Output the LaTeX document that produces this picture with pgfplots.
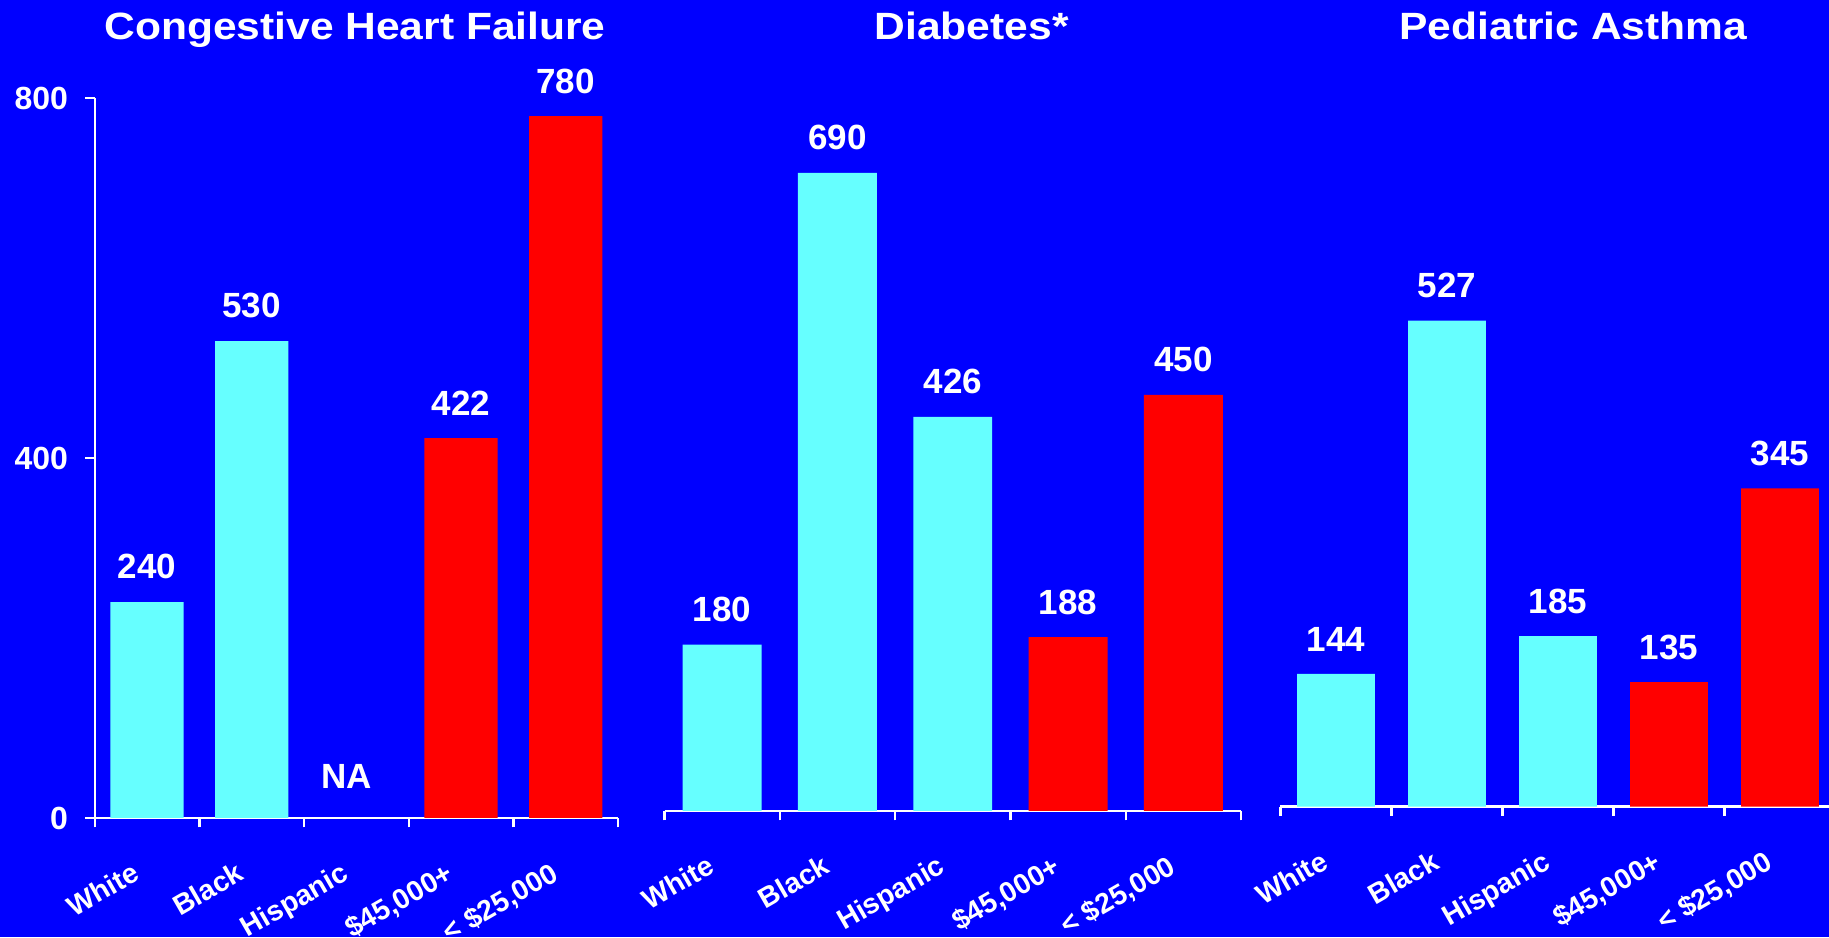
\documentclass[border=0pt]{standalone}
\usepackage{fontspec}
\setmainfont{Liberation Sans}
\newfontfamily\titlefont[FakeStretch=1.12]{Liberation Sans}
\usepackage{pgfplots}
\pgfplotsset{compat=1.18}

\definecolor{bgblue}{RGB}{0,0,255}
\definecolor{barcyan}{RGB}{102,255,255}
\definecolor{barred}{RGB}{255,0,0}

\newcommand{\valfont}{\bfseries\fontsize{10.5}{12}\selectfont}
\newcommand{\catfont}{\bfseries\fontsize{8.5}{10}\selectfont}
\newcommand{\numfont}{\bfseries\fontsize{9.6}{11}\selectfont}

\pgfplotsset{
  panel/.style={
    scale only axis, anchor=south west,
    ybar, bar shift=0pt,
    ymin=0, ymax=800, xmin=-0.5, xmax=4.5,
    enlargelimits=false, clip=false,
    /pgf/number format/assume math mode=true,
    axis line style={white, line width=0.7pt, -},
    tick style={white, line width=0.7pt},
    major tick length=2.8pt,
    tick align=outside,
    xtick={-0.5,0.5,1.5,2.5,3.5,4.5}, xticklabel={\mbox{}},
    extra x ticks={0,1,2,3,4},
    extra x tick labels={White,Black,Hispanic,{\$45,000+},{< \$25,000}},
    extra x tick style={
      major tick length=0pt,
      xticklabel style={font=\catfont, text=white, rotate=30,
        anchor=north east, inner sep=0pt, xshift=-10.5pt, yshift=-8.5pt},
    },
    nodes near coords,
    nodes near coords style={font=\valfont, text=white,
      anchor=south, inner sep=0pt, yshift=6.6pt},
  },
  cyanbar/.style={fill=barcyan, draw=none},
  redbar/.style={fill=barred, draw=none},
}

\begin{document}
\begin{tikzpicture}
\useasboundingbox (0,0) rectangle (548.7pt,281.1pt);
\clip (0,0) rectangle (548.7pt,281.1pt);
\fill[bgblue] (0,0) rectangle (548.7pt,281.1pt);

% Congestive Heart Failure
\begin{axis}[panel, at={(28.41pt,35.7pt)}, width=157pt, height=216pt,
  bar width=0.7,
  axis x line*=bottom, axis y line*=left,
  ytick={0,400,800},
  yticklabel style={font=\numfont, text=white, anchor=east,
    inner sep=0pt, xshift=-5pt}]
  \addplot[cyanbar] coordinates {(0,240) (1,530)};
  \addplot[redbar]  coordinates {(3,422) (4,780)};
  \node[font=\valfont, text=white, anchor=base, xshift=-3pt, yshift=9pt]
    at (axis cs:2,0) {NA};
\end{axis}

% Diabetes
\begin{axis}[panel, at={(199.35pt,37.8pt)}, width=172.95pt, height=222pt,
  bar width=0.685,
  axis x line*=bottom, axis y line=none, ytick=\empty]
  \addplot[cyanbar] coordinates {(0,180) (1,690) (2,426)};
  \addplot[redbar]  coordinates {(3,188) (4,450)};
\end{axis}

% Pediatric Asthma
\begin{axis}[panel, at={(384.12pt,39.12pt)}, width=166.5pt, height=221.3pt,
  bar width=0.7,
  axis x line*=bottom, axis y line=none, ytick=\empty]
  \addplot[cyanbar] coordinates {(0,144) (1,527) (2,185)};
  \addplot[redbar]  coordinates {(3,135) (4,345)};
\end{axis}

% Panel titles
\begin{scope}[every node/.style={text=white, anchor=base,
    font=\titlefont\bfseries\fontsize{11.4}{13}\selectfont}]
  \node at (106.5pt,269.2pt) {Congestive Heart Failure};
  \node at (291.5pt,269.2pt) {Diabetes*};
  \node at (472pt,269.2pt) {Pediatric Asthma};
\end{scope}
\end{tikzpicture}
\end{document}
